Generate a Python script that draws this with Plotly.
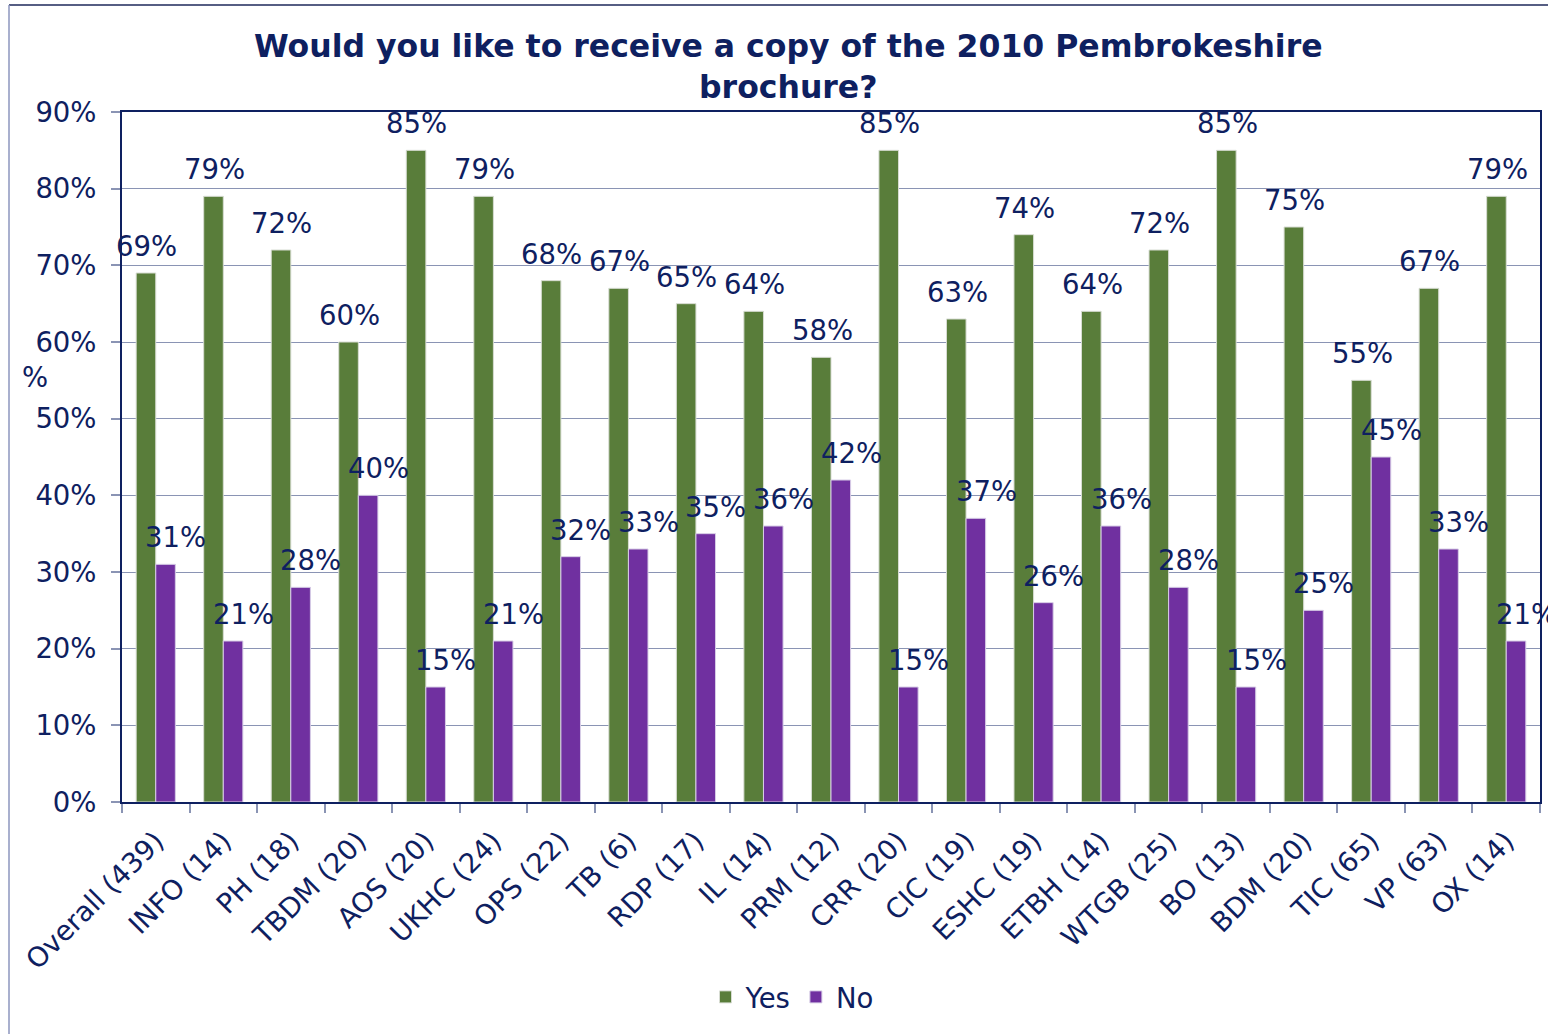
import plotly.graph_objects as go

# Survey responses by source (sample size in brackets)
categories = [
    "Overall (439)", "INFO (14)", "PH (18)", "TBDM (20)", "AOS (20)", "UKHC (24)",
    "OPS (22)", "TB (6)", "RDP (17)", "IL (14)", "PRM (12)", "CRR (20)", "CIC (19)",
    "ESHC (19)", "ETBH (14)", "WTGB (25)", "BO (13)", "BDM (20)", "TIC (65)",
    "VP (63)", "OX (14)",
]
yes_pct = [69, 79, 72, 60, 85, 79, 68, 67, 65, 64, 58, 85, 63, 74, 64, 72, 85, 75, 55, 67, 79]
no_pct = [31, 21, 28, 40, 15, 21, 32, 33, 35, 36, 42, 15, 37, 26, 36, 28, 15, 25, 45, 33, 21]
y_ticks = [0, 10, 20, 30, 40, 50, 60, 70, 80, 90]

NAVY = "rgb(14,32,96)"
GREEN = "rgb(89,125,58)"
PURPLE = "rgb(112,48,160)"
GRID = "rgb(138,148,180)"
FONT = "DejaVu Sans"
LABEL_SIZE = 27.5

W, H = 1548, 1034
L, R, T, B = 122, 8, 112, 232
plot_w = W - L - R
plot_h = H - T - B


def px_x(px):
    return (px - L) / plot_w


def px_y(py):
    return (H - B - py) / plot_h


fig = go.Figure()
fig.add_trace(go.Bar(
    name="Yes", x=categories, y=yes_pct,
    marker=dict(color=GREEN, line=dict(color="rgb(215,220,210)", width=1)),
))
fig.add_trace(go.Bar(
    name="No", x=categories, y=no_pct,
    marker=dict(color=PURPLE, line=dict(color="rgb(215,205,230)", width=1)),
))

# value labels above each bar
annotations = []
for cat, yv, nv in zip(categories, yes_pct, no_pct):
    annotations.append(dict(
        x=cat, y=yv, xref="x", yref="y", text=f"{yv}%", showarrow=False,
        xshift=-9, yshift=27, yanchor="middle", xanchor="center",
        font=dict(family=FONT, size=LABEL_SIZE, color=NAVY),
    ))
    annotations.append(dict(
        x=cat, y=nv, xref="x", yref="y", text=f"{nv}%", showarrow=False,
        xshift=20, yshift=27, yanchor="middle", xanchor="center",
        font=dict(family=FONT, size=LABEL_SIZE, color=NAVY),
    ))

# vertical axis caption
annotations.append(dict(
    x=px_x(35), y=px_y(377), xref="paper", yref="paper",
    text="%", showarrow=False, xanchor="center", yanchor="middle",
    font=dict(family=FONT, size=LABEL_SIZE, color=NAVY),
))

# chart title
annotations.append(dict(
    x=px_x(788), y=px_y(66), xref="paper", yref="paper",
    text="<b>Would you like to receive a copy of the 2010 Pembrokeshire<br>brochure?</b>",
    showarrow=False, xanchor="center", yanchor="middle", align="center",
    font=dict(family=FONT, size=31.5, color=NAVY),
))

shapes = [
    # outer chart frame (top and left edges)
    dict(type="line", xref="paper", yref="paper",
         x0=px_x(9), x1=px_x(W + 5), y0=px_y(5), y1=px_y(5),
         line=dict(color="rgb(30,40,90)", width=1.5)),
    dict(type="line", xref="paper", yref="paper",
         x0=px_x(9), x1=px_x(9), y0=px_y(5), y1=px_y(H + 5),
         line=dict(color="rgb(140,150,190)", width=1.5)),
]

fig.update_layout(
    width=W, height=H,
    margin=dict(l=L, r=R, t=T, b=B, autoexpand=False),
    paper_bgcolor="white", plot_bgcolor="white",
    barmode="group", bargap=0.42, bargroupgap=0,
    font=dict(family=FONT, color=NAVY),
    legend=dict(
        orientation="h", x=px_x(792), xanchor="center",
        y=px_y(997), yanchor="middle",
        font=dict(family=FONT, size=LABEL_SIZE, color=NAVY),
        itemwidth=30, tracegroupgap=0,
    ),
    annotations=annotations,
    shapes=shapes,
)

fig.update_xaxes(
    type="category", range=[-0.5, len(categories) - 0.5], autorange=False,
    tickangle=-45, tickson="boundaries",
    ticks="outside", ticklen=9, tickcolor=GRID, tickwidth=1.5,
    ticklabelstandoff=10,
    tickfont=dict(family=FONT, size=LABEL_SIZE, color=NAVY),
    showline=True, linecolor=NAVY, linewidth=2, mirror=True,
    showgrid=False,
)
fig.update_yaxes(
    range=[0, 90], autorange=False, tickvals=y_ticks,
    ticktext=[f"{v}%" for v in y_ticks],
    ticks="outside", ticklen=9, tickcolor=GRID, tickwidth=1.5,
    ticklabelstandoff=9,
    tickfont=dict(family=FONT, size=LABEL_SIZE, color=NAVY),
    showline=True, linecolor=NAVY, linewidth=2, mirror=True,
    showgrid=True, gridcolor=GRID, gridwidth=1, zeroline=False,
)

fig.write_html("out.html")
